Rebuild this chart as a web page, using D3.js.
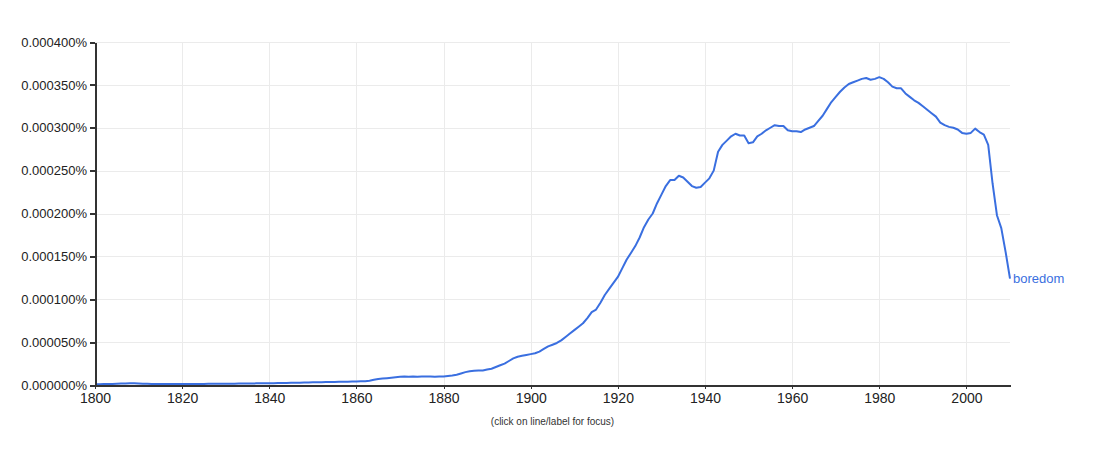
<!DOCTYPE html>
<html lang="en">
	<head>
		<meta charset="utf-8">
		<title>Ngram: boredom</title>
		<script src="https://d3js.org/d3.v7.min.js"></script>
		<style type="text/css">
			body {
				margin: 0;
				background: #fff;
			}
			.axis path,
			.axis line {
				fill: none;
				stroke: #333;
				shape-rendering: crispEdges;
			}
			.axis text {
				font-family: "Liberation Sans", Arial, sans-serif;
				font-size: 13px;
				fill: #222;
			}
			.x.axis text {
				font-size: 14px;
			}
			.grid line {
				stroke: #ebebeb;
				shape-rendering: crispEdges;
			}
			.grid path {
				display: none;
			}
		</style>
	</head>
	<body>
		<script type="text/javascript">
			//Width and height
			var w = 1101;
			var h = 466;
			var margin = {top: 42, right: 91, bottom: 81, left: 95};

			//Data: yearly frequency of "boredom", in units of 0.000001%
			var years = d3.range(1800, 2011);
			var values = [
				1.0, 1.0, 1.1, 1.2, 1.3, 1.5, 1.7, 1.8, 1.9, 1.9,          // 1800s
				1.8, 1.6, 1.4, 1.3, 1.3, 1.2, 1.2, 1.2, 1.2, 1.2,          // 1810s
				1.2, 1.2, 1.2, 1.3, 1.3, 1.3, 1.4, 1.4, 1.4, 1.5,          // 1820s
				1.5, 1.6, 1.6, 1.7, 1.7, 1.8, 1.8, 1.9, 1.9, 2.0,          // 1830s
				2.0, 2.1, 2.2, 2.3, 2.4, 2.5, 2.6, 2.7, 2.8, 3.0,          // 1840s
				3.1, 3.2, 3.3, 3.4, 3.5, 3.6, 3.7, 3.8, 3.9, 4.0,          // 1850s
				4.1, 4.3, 4.5, 5.0, 6.0, 7.0, 7.5, 8.0, 8.5, 9.0,          // 1860s
				9.5, 10, 9.5, 10, 9.5, 10, 10, 10, 9.5, 10,                // 1870s
				10, 10.5, 11, 12, 13.5, 15, 16, 16.5, 17, 17,              // 1880s
				18, 19, 21, 23, 25, 28, 31, 33, 34, 35,                    // 1890s
				36, 37, 39, 42, 45, 47, 49, 52, 56, 60,                    // 1900s
				64, 68, 72, 78, 85, 88, 96, 105, 112, 119,                 // 1910s
				126, 136, 146, 154, 162, 172, 184, 193, 200, 212,          // 1920s
				222, 232, 239, 239, 244, 242, 237, 232, 230, 231,          // 1930s
				236, 241, 250, 272, 280, 285, 290, 293, 291, 291,          // 1940s
				282, 283, 290, 293, 297, 300, 303, 302, 302, 297,          // 1950s
				296, 296, 295, 298, 300, 302, 308, 314, 322, 330,          // 1960s
				336, 342, 347, 351, 353, 355, 357, 358, 356, 357,          // 1970s
				359, 357, 353, 348, 346, 346, 340, 336, 332, 329,          // 1980s
				325, 321, 317, 313, 306, 303, 301, 300, 298, 294,          // 1990s
				293, 294, 299, 295, 292, 280, 235, 198, 183, 155,          // 2000s
				124                                                        // 2010
			];
			var seriesName = "boredom";
			var yTicks = [0, 50, 100, 150, 200, 250, 300, 350, 400];
			var xTicks = [1800, 1820, 1840, 1860, 1880, 1900, 1920, 1940, 1960, 1980, 2000];

			var dataset = years.map(function(d, i) { return [d, values[i]]; });

			//Create scale functions
			var xScale = d3.scaleLinear()
								 .domain([1800, 2010])
								 .range([margin.left, w - margin.right]);
			var yScale = d3.scaleLinear()
								 .domain([0, 400])
								 .range([h - margin.bottom, margin.top]);

			var fmt = d3.format(".6f");

			//Create SVG element
			var svg = d3.select("body")
						.append("svg")
						.attr("width", w)
						.attr("height", h);

			//Gridlines
			svg.append("g")
				.attr("class", "grid")
				.attr("transform", "translate(" + margin.left + ",0)")
				.call(d3.axisLeft(yScale)
					.tickValues(yTicks)
					.tickSize(-(w - margin.left - margin.right))
					.tickFormat(""));
			svg.append("g")
				.attr("class", "grid")
				.attr("transform", "translate(0," + (h - margin.bottom) + ")")
				.call(d3.axisBottom(xScale)
					.tickValues(xTicks)
					.tickSize(-(h - margin.top - margin.bottom))
					.tickFormat(""));

			//Line
			var line = d3.line()
				.x(function(d) { return xScale(d[0]); })
				.y(function(d) { return yScale(d[1]); });

			svg.append("path")
				.datum(dataset)
				.attr("d", line)
				.attr("fill", "none")
				.attr("stroke", "#3a6fe0")
				.attr("stroke-width", 2)
				.attr("stroke-linejoin", "round");

			//Define X axis
			var xAxis = d3.axisBottom()
							  .scale(xScale)
							  .tickValues(xTicks)
							  .tickSize(4)
							  .tickSizeOuter(0)
							  .tickFormat(d3.format("d"));
			//Define Y axis
			var yAxis = d3.axisLeft()
							  .scale(yScale)
							  .tickValues(yTicks)
							  .tickSize(5)
							  .tickSizeOuter(0)
							  .tickFormat(function(d) { return fmt(d / 1e6) + "%"; });

			//Create X axis
			var gx = svg.append("g")
				.attr("class", "x axis")
				.attr("transform", "translate(0," + (h - margin.bottom) + ")")
				.call(xAxis);
			gx.select(".domain").attr("stroke-width", 2);
			gx.selectAll("text").attr("y", 6).attr("dy", "0.85em");

			//Create Y axis
			var gy = svg.append("g")
				.attr("class", "y axis")
				.attr("transform", "translate(" + margin.left + ",0)")
				.call(yAxis);
			gy.select(".domain").attr("stroke-width", 2);
			gy.selectAll(".tick line").attr("stroke-width", 2);
			gy.selectAll("text").attr("x", -8);

			//Series label
			var last = dataset[dataset.length - 1];
			svg.append("text")
				.attr("x", xScale(last[0]) + 3)
				.attr("y", yScale(last[1]))
				.attr("dy", "0.3em")
				.attr("font-family", "'Liberation Sans', Arial, sans-serif")
				.attr("font-size", 13)
				.attr("fill", "#3a6fe0")
				.text(seriesName);

			//Footnote
			svg.append("text")
				.attr("x", (margin.left + w - margin.right) / 2)
				.attr("y", 425)
				.attr("text-anchor", "middle")
				.attr("font-family", "'Liberation Sans', Arial, sans-serif")
				.attr("font-size", 10)
				.attr("fill", "#333")
				.text("(click on line/label for focus)");
		</script>
	</body>
</html>
